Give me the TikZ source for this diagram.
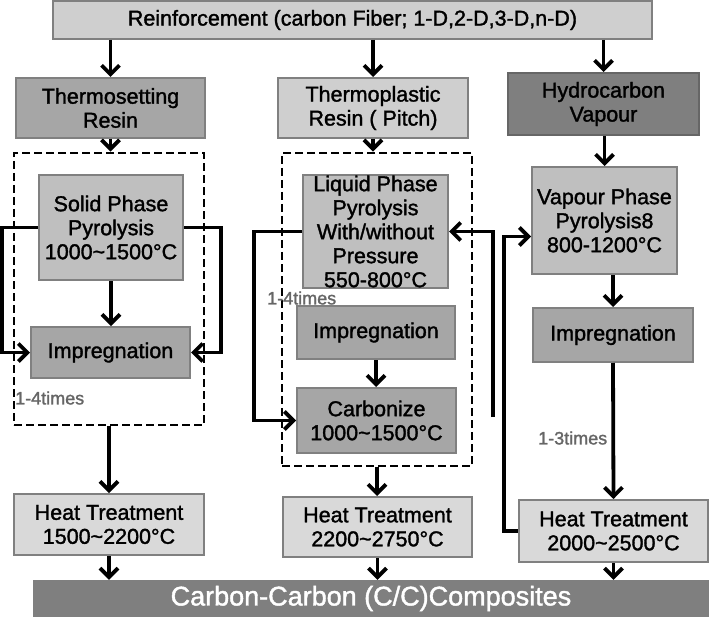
\documentclass[tikz,border=0pt]{standalone}
\usepackage{fontspec}
\setmainfont{Liberation Sans}[FakeBold=1.5]
\usepackage{tikz}
\usetikzlibrary{arrows.meta,calc,positioning}
\definecolor{boxLine}{HTML}{808080}
\definecolor{boxLight}{HTML}{D9D9D9}
\definecolor{boxPale}{HTML}{CFCFCF}
\definecolor{boxMid}{HTML}{BFBFBF}
\definecolor{boxDark}{HTML}{A6A6A6}
\definecolor{boxDeep}{HTML}{7F7F7F}
\definecolor{timesGray}{HTML}{666666}
\tikzset{
  cc schemes/.style = {
    x=1pt, y=-1pt,
    font=\fontsize{21.5}{24}\selectfont,
    % Блоки
    bx/.style  = {draw=boxLine, line width=2pt, align=center, inner sep=0pt},
    lbx/.style = {bx, fill=boxLight},
    pbx/.style = {bx, fill=boxPale},
    mbx/.style = {bx, fill=boxMid},
    dbx/.style = {bx, fill=boxDark},
    xbx/.style = {bx, fill=boxDeep, draw=boxDeep!80!black},
    bar/.style = {fill=boxDeep, text=white, inner sep=0pt,
                  font=\fontsize{27}{30}\selectfont},
    % Циклы
    loop box/.style = {draw, line width=2.8pt, dash pattern=on 8pt off 4pt},
    times/.style    = {anchor=west, inner sep=0pt, text=timesGray,
                       font=\fontsize{18}{20}\selectfont},
    % Линии, стрелки
    connect line/.style = {line width=3.8pt, -{Straight Barb[length=9pt,width=18pt]}},
  }
}
\begin{document}
\begin{tikzpicture}[cc schemes]
\def\block(#1)<#2,#3>[#4]#5 at (#6);{
  \node[#4, minimum width=#2pt, minimum height=#3pt] (#1) at (#6) {#5};}
\def\dC{°C}
\def\tld{\textasciitilde}
\useasboundingbox (0,0) rectangle (709,631);

\block (top)<599,38>[pbx]{Reinforcement (carbon Fiber; 1-D,2-D,3-D,n-D)} at (352.5,20);
\block (tset)<189,60>[dbx]{Thermosetting\\Resin} at (110.5,108);
\block (tplast)<190,60>[pbx]{Thermoplastic\\Resin ( Pitch)} at (373,108);
\block (hydro)<191,62>[xbx]{Hydrocarbon\\Vapour} at (603.5,104);

%---------------------------------------------
\block (loopL)<190,272>[loop box]{} at (109,289);
\block (loopM)<190,313>[loop box]{} at (377,309.5);

\block (solid)<144,105>[mbx]{Solid Phase\\Pyrolysis\\1000\tld1500\dC} at (111,227.5);
\block (impL)<159,51>[dbx]{Impregnation} at (110.5,352.5);
\block (liquid)<145,113>[mbx]{Liquid Phase\\Pyrolysis\\With/without\\Pressure\\550-800\dC} at (375.5,231.5);
\block (impM)<158,53>[dbx]{Impregnation} at (376,332.5);
\block (carb)<159,65>[dbx]{Carbonize\\1000\tld1500\dC} at (376.5,420.5);
\block (vapour)<145,107>[mbx]{Vapour Phase\\Pyrolysis8\\800-1200\dC} at (604.5,220.5);
\block (impR)<160,54>[dbx]{Impregnation} at (613,335);

\node[times] (timesL) at (15,398) {1-4times};
\node[times] (timesM) at (267,298) {1-4times};
\node[times] (timesR) at (538,438) {1-3times};

%---------------------------------------------
\block (heatL)<190,61>[lbx]{Heat Treatment\\1500\tld2200\dC} at (109,524.5);
\block (heatM)<189,60>[lbx]{Heat Treatment\\2200\tld2750\dC} at (377.5,527);
\block (heatR)<189,62>[lbx]{Heat Treatment\\2000\tld2500\dC} at (613.5,531);
\block (cc)<676,37>[bar]{Carbon-Carbon (C/C)Composites} at (371,598.5);

\draw[connect line] (top.south -| tset) -- (tset.north);
\draw[connect line] (top.south -| tplast) -- (tplast.north);
\draw[connect line] (top.south -| hydro) -- (hydro.north);
\draw[connect line] (tset.south) -- (tset.south |- loopL.north);
\draw[connect line] (tplast.south) -- (tplast.south |- loopM.north);
\draw[connect line] (hydro.south -| vapour) -- (vapour.north);

\draw[connect line] (solid.south) -- (solid.south |- impL.north);
\draw[connect line] (solid.west) -- ++(-36,0) |- (impL.west);
\draw[connect line] (solid.east) -- ++(37,0) |- (impL.east);
\draw[connect line] (loopL.south) -- (heatL.north);
\draw[connect line] (heatL.south) -- (heatL.south |- cc.north);

\draw[connect line] (impM.south) -- (impM.south |- carb.north);
\draw[connect line] (liquid.west) -- ++(-48,0) |- (carb.west);
\coordinate (backM) at (493,417);
\draw[connect line] (backM) |- (liquid.east);
\draw[connect line] (loopM.south) -- (loopM.south |- heatM.north);
\draw[connect line] (heatM.south) -- (heatM.south |- cc.north);

\draw[connect line] (vapour.south -| impR) -- (impR.north);
\draw[connect line] (impR.south) -- (heatR.north);
\draw[connect line] (heatR.west) -- ++(-14,0) |- ([yshift=-16pt]vapour.west);
\draw[connect line] (heatR.south) -- (heatR.south |- cc.north);
\end{tikzpicture}
\end{document}
